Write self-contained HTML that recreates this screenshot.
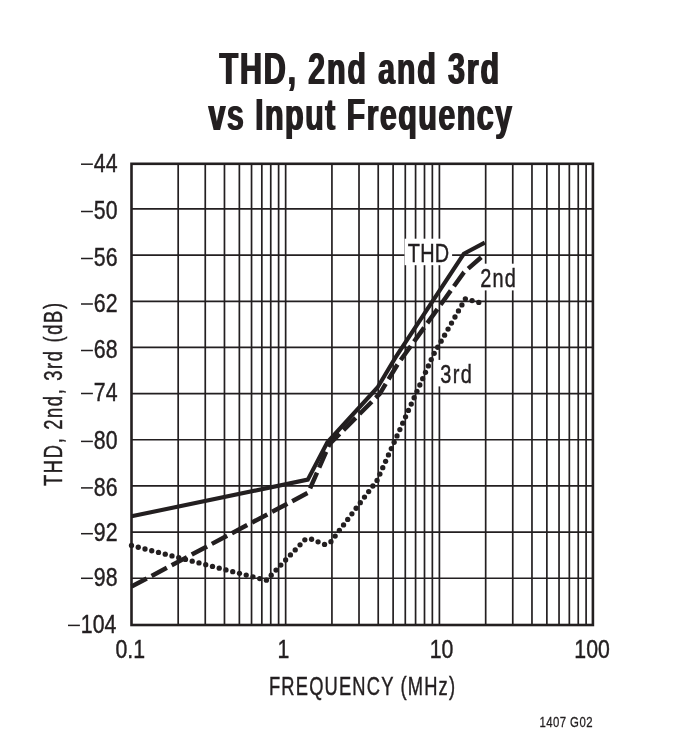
<!DOCTYPE html>
<html><head><meta charset="utf-8">
<style>
html,body{margin:0;padding:0;background:#fff;}
svg{display:block;will-change:transform;}
text{font-family:"Liberation Sans", sans-serif; fill:#231f20;}
.r{stroke:#231f20;stroke-width:0.45;}
.g{stroke:#231f20;stroke-width:1.7;}
</style></head>
<body>
<svg width="687" height="747" viewBox="0 0 687 747">
<rect width="687" height="747" fill="#fff"/>
<line x1="178.18" y1="163" x2="178.18" y2="625" class="g"/>
<line x1="205.26" y1="163" x2="205.26" y2="625" class="g"/>
<line x1="224.47" y1="163" x2="224.47" y2="625" class="g"/>
<line x1="239.37" y1="163" x2="239.37" y2="625" class="g"/>
<line x1="251.54" y1="163" x2="251.54" y2="625" class="g"/>
<line x1="261.83" y1="163" x2="261.83" y2="625" class="g"/>
<line x1="270.75" y1="163" x2="270.75" y2="625" class="g"/>
<line x1="278.61" y1="163" x2="278.61" y2="625" class="g"/>
<line x1="285.65" y1="163" x2="285.65" y2="625" class="g"/>
<line x1="331.93" y1="163" x2="331.93" y2="625" class="g"/>
<line x1="359.01" y1="163" x2="359.01" y2="625" class="g"/>
<line x1="378.22" y1="163" x2="378.22" y2="625" class="g"/>
<line x1="393.12" y1="163" x2="393.12" y2="625" class="g"/>
<line x1="405.29" y1="163" x2="405.29" y2="625" class="g"/>
<line x1="415.58" y1="163" x2="415.58" y2="625" class="g"/>
<line x1="424.50" y1="163" x2="424.50" y2="625" class="g"/>
<line x1="432.36" y1="163" x2="432.36" y2="625" class="g"/>
<line x1="439.40" y1="163" x2="439.40" y2="625" class="g"/>
<line x1="485.68" y1="163" x2="485.68" y2="625" class="g"/>
<line x1="512.76" y1="163" x2="512.76" y2="625" class="g"/>
<line x1="531.97" y1="163" x2="531.97" y2="625" class="g"/>
<line x1="546.87" y1="163" x2="546.87" y2="625" class="g"/>
<line x1="559.04" y1="163" x2="559.04" y2="625" class="g"/>
<line x1="569.33" y1="163" x2="569.33" y2="625" class="g"/>
<line x1="578.25" y1="163" x2="578.25" y2="625" class="g"/>
<line x1="586.11" y1="163" x2="586.11" y2="625" class="g"/>
<line x1="131" y1="208.96" x2="593" y2="208.96" class="g"/>
<line x1="131" y1="255.12" x2="593" y2="255.12" class="g"/>
<line x1="131" y1="301.28" x2="593" y2="301.28" class="g"/>
<line x1="131" y1="347.44" x2="593" y2="347.44" class="g"/>
<line x1="131" y1="393.60" x2="593" y2="393.60" class="g"/>
<line x1="131" y1="439.76" x2="593" y2="439.76" class="g"/>
<line x1="131" y1="485.92" x2="593" y2="485.92" class="g"/>
<line x1="131" y1="532.08" x2="593" y2="532.08" class="g"/>
<line x1="131" y1="578.24" x2="593" y2="578.24" class="g"/>

<rect x="404.6" y="238.7" width="47.5" height="26.5" fill="#fff"/>
<rect x="477" y="263.7" width="42" height="26.7" fill="#fff"/>
<rect x="436" y="359.9" width="42" height="26.5" fill="#fff"/>

<rect x="131.5" y="163.8" width="461.4" height="461.2" fill="none" stroke="#231f20" stroke-width="2.6"/>

<polyline points="131.5,516.3 307.8,479.6 327.4,442.3 377.5,387.5 395.4,357.6 463.8,253.8 484.8,242.6" fill="none" stroke="#231f20" stroke-width="4.1" stroke-linejoin="miter"/>
<polyline points="131.5,586.6 308.3,492.6 329.4,444.2 379.7,393.8 397.5,364.5 464,272.3 485,254" fill="none" stroke="#231f20" stroke-width="4.5" stroke-dasharray="17.3 5.45"/>
<g fill="#231f20"><circle cx="131.50" cy="545.50" r="2.65"/><circle cx="138.25" cy="547.24" r="2.65"/><circle cx="145.00" cy="548.98" r="2.65"/><circle cx="151.74" cy="550.73" r="2.65"/><circle cx="158.49" cy="552.47" r="2.65"/><circle cx="165.24" cy="554.21" r="2.65"/><circle cx="171.99" cy="555.95" r="2.65"/><circle cx="178.74" cy="557.69" r="2.65"/><circle cx="185.48" cy="559.44" r="2.65"/><circle cx="192.23" cy="561.18" r="2.65"/><circle cx="198.98" cy="562.92" r="2.65"/><circle cx="205.73" cy="564.66" r="2.65"/><circle cx="212.48" cy="566.40" r="2.65"/><circle cx="219.22" cy="568.15" r="2.65"/><circle cx="225.97" cy="569.89" r="2.65"/><circle cx="232.72" cy="571.63" r="2.65"/><circle cx="239.47" cy="573.37" r="2.65"/><circle cx="246.21" cy="575.11" r="2.65"/><circle cx="252.96" cy="576.86" r="2.65"/><circle cx="259.71" cy="578.60" r="2.65"/><circle cx="266.41" cy="580.18" r="2.65"/><circle cx="271.22" cy="575.13" r="2.65"/><circle cx="276.02" cy="570.08" r="2.65"/><circle cx="280.82" cy="565.03" r="2.65"/><circle cx="285.63" cy="559.98" r="2.65"/><circle cx="290.43" cy="554.93" r="2.65"/><circle cx="295.23" cy="549.88" r="2.65"/><circle cx="300.04" cy="544.83" r="2.65"/><circle cx="304.84" cy="539.78" r="2.65"/><circle cx="311.59" cy="539.24" r="2.65"/><circle cx="318.07" cy="541.81" r="2.65"/><circle cx="324.55" cy="544.38" r="2.65"/><circle cx="330.93" cy="541.63" r="2.65"/><circle cx="335.15" cy="536.09" r="2.65"/><circle cx="339.34" cy="530.52" r="2.65"/><circle cx="343.53" cy="524.96" r="2.65"/><circle cx="347.72" cy="519.39" r="2.65"/><circle cx="351.91" cy="513.82" r="2.65"/><circle cx="356.11" cy="508.25" r="2.65"/><circle cx="360.30" cy="502.69" r="2.65"/><circle cx="364.49" cy="497.12" r="2.65"/><circle cx="368.68" cy="491.55" r="2.65"/><circle cx="372.87" cy="485.98" r="2.65"/><circle cx="377.04" cy="480.40" r="2.65"/><circle cx="379.90" cy="474.04" r="2.65"/><circle cx="382.75" cy="467.68" r="2.65"/><circle cx="385.60" cy="461.32" r="2.65"/><circle cx="388.45" cy="454.97" r="2.65"/><circle cx="391.30" cy="448.61" r="2.65"/><circle cx="394.15" cy="442.25" r="2.65"/><circle cx="397.00" cy="435.89" r="2.65"/><circle cx="399.86" cy="429.53" r="2.65"/><circle cx="402.71" cy="423.17" r="2.65"/><circle cx="405.56" cy="416.81" r="2.65"/><circle cx="408.41" cy="410.45" r="2.65"/><circle cx="411.26" cy="404.09" r="2.65"/><circle cx="414.11" cy="397.73" r="2.65"/><circle cx="416.96" cy="391.37" r="2.65"/><circle cx="419.82" cy="385.02" r="2.65"/><circle cx="422.67" cy="378.66" r="2.65"/><circle cx="425.52" cy="372.30" r="2.65"/><circle cx="428.37" cy="365.94" r="2.65"/><circle cx="431.22" cy="359.58" r="2.65"/><circle cx="434.20" cy="353.28" r="2.65"/><circle cx="437.66" cy="347.24" r="2.65"/><circle cx="441.12" cy="341.19" r="2.65"/><circle cx="444.59" cy="335.14" r="2.65"/><circle cx="448.05" cy="329.09" r="2.65"/><circle cx="451.51" cy="323.05" r="2.65"/><circle cx="454.98" cy="317.00" r="2.65"/><circle cx="458.44" cy="310.95" r="2.65"/><circle cx="461.91" cy="304.90" r="2.65"/><circle cx="465.37" cy="298.85" r="2.65"/><circle cx="472.07" cy="300.59" r="2.65"/><circle cx="478.80" cy="302.40" r="2.65"/></g>

<text transform="translate(218.8,84.2) scale(0.68,1)" font-size="44.8" font-weight="bold" textLength="411.18" lengthAdjust="spacing" text-anchor="start" >THD, 2nd and 3rd</text>
<text transform="translate(207.8,129.9) scale(0.68,1)" font-size="44.8" font-weight="bold" textLength="446.47" lengthAdjust="spacing" text-anchor="start" >vs Input Frequency</text>
<text transform="translate(220.20000000000002,84.2) scale(0.68,1)" font-size="44.8" font-weight="bold" textLength="411.18" lengthAdjust="spacing" text-anchor="start" >THD, 2nd and 3rd</text>
<text transform="translate(209.20000000000002,129.9) scale(0.68,1)" font-size="44.8" font-weight="bold" textLength="446.47" lengthAdjust="spacing" text-anchor="start" >vs Input Frequency</text>
<text transform="translate(117.5,171.8) scale(0.8,1)" font-size="26.6" font-weight="normal"  text-anchor="end" class="r">44</text>
<rect x="81.00" y="163.45" width="11.9" height="1.5" fill="#231f20"/>
<text transform="translate(117.5,219.1) scale(0.8,1)" font-size="26.6" font-weight="normal"  text-anchor="end" class="r">50</text>
<rect x="81.00" y="210.75" width="11.9" height="1.5" fill="#231f20"/>
<text transform="translate(117.5,266.1) scale(0.8,1)" font-size="26.6" font-weight="normal"  text-anchor="end" class="r">56</text>
<rect x="81.00" y="257.75" width="11.9" height="1.5" fill="#231f20"/>
<text transform="translate(117.5,311.6) scale(0.8,1)" font-size="26.6" font-weight="normal"  text-anchor="end" class="r">62</text>
<rect x="81.00" y="303.25" width="11.9" height="1.5" fill="#231f20"/>
<text transform="translate(117.5,358.1) scale(0.8,1)" font-size="26.6" font-weight="normal"  text-anchor="end" class="r">68</text>
<rect x="81.00" y="349.75" width="11.9" height="1.5" fill="#231f20"/>
<text transform="translate(117.5,401.1) scale(0.8,1)" font-size="26.6" font-weight="normal"  text-anchor="end" class="r">74</text>
<rect x="81.00" y="392.75" width="11.9" height="1.5" fill="#231f20"/>
<text transform="translate(117.5,449.0) scale(0.8,1)" font-size="26.6" font-weight="normal"  text-anchor="end" class="r">80</text>
<rect x="81.00" y="440.65" width="11.9" height="1.5" fill="#231f20"/>
<text transform="translate(117.5,495.5) scale(0.8,1)" font-size="26.6" font-weight="normal"  text-anchor="end" class="r">86</text>
<rect x="81.00" y="487.15" width="11.9" height="1.5" fill="#231f20"/>
<text transform="translate(117.5,541.3) scale(0.8,1)" font-size="26.6" font-weight="normal"  text-anchor="end" class="r">92</text>
<rect x="81.00" y="532.95" width="11.9" height="1.5" fill="#231f20"/>
<text transform="translate(117.5,585.9) scale(0.8,1)" font-size="26.6" font-weight="normal"  text-anchor="end" class="r">98</text>
<rect x="81.00" y="577.55" width="11.9" height="1.5" fill="#231f20"/>
<text transform="translate(116.3,633.0) scale(0.8,1)" font-size="26.6" font-weight="normal"  text-anchor="end" class="r">104</text>
<rect x="68.00" y="624.65" width="11.9" height="1.5" fill="#231f20"/>
<text transform="translate(130.3,658.1) scale(0.8,1)" font-size="26.6" font-weight="normal"  text-anchor="middle" class="r">0.1</text>
<text transform="translate(283.5,658.1) scale(0.8,1)" font-size="26.6" font-weight="normal"  text-anchor="middle" class="r">1</text>
<text transform="translate(441.5,658.1) scale(0.8,1)" font-size="26.6" font-weight="normal"  text-anchor="middle" class="r">10</text>
<text transform="translate(592.1,658.1) scale(0.8,1)" font-size="26.6" font-weight="normal"  text-anchor="middle" class="r">100</text>
<text transform="translate(269,694.7) scale(0.7,1)" font-size="26.2" font-weight="normal" textLength="265.71" lengthAdjust="spacing" text-anchor="start" class="r">FREQUENCY (MHz)</text>
<text transform="translate(61.8,486) rotate(-90) scale(0.7,1)" x="0" y="0" font-size="26.2" class="r" textLength="261.43" lengthAdjust="spacing">THD, 2nd, 3rd (dB)</text>
<text transform="translate(407.7,261.6) scale(0.76,1)" font-size="26.2" font-weight="normal" textLength="54.61" lengthAdjust="spacing" text-anchor="start" class="r">THD</text>
<text transform="translate(480.3,286.9) scale(0.76,1)" font-size="26.2" font-weight="normal" textLength="46.71" lengthAdjust="spacing" text-anchor="start" class="r">2nd</text>
<text transform="translate(440.3,382.8) scale(0.76,1)" font-size="26.2" font-weight="normal" textLength="41.45" lengthAdjust="spacing" text-anchor="start" class="r">3rd</text>
<text transform="translate(539.5,727.1) scale(0.75,1)" font-size="15.2" font-weight="normal" textLength="70.67" lengthAdjust="spacing" text-anchor="start" style="stroke:#231f20;stroke-width:0.3">1407 G02</text>
</svg>
</body></html>
